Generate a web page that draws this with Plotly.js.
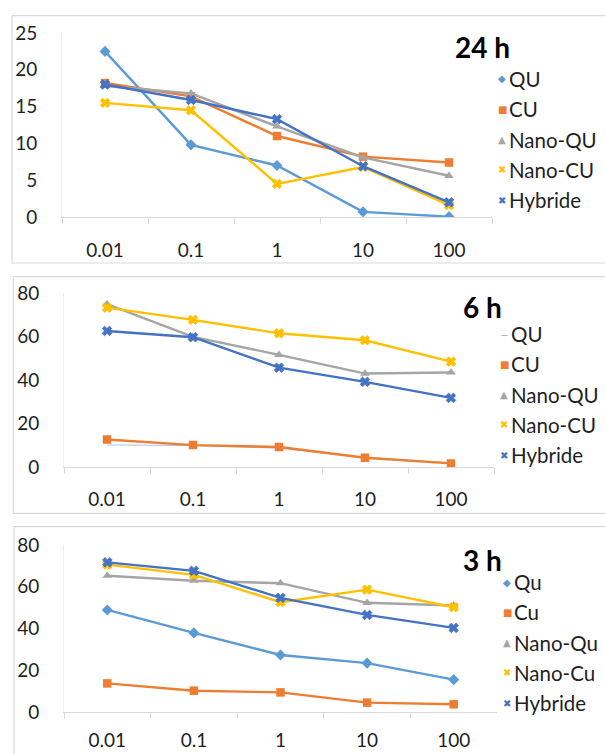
<!DOCTYPE html>
<html>
<head>
<meta charset="utf-8">
<script src="https://cdn.plot.ly/plotly-3.0.1.min.js"></script>
<style>
  html, body { margin: 0; padding: 0; background: #fff; }
  #chart { width: 605px; height: 754px; }
</style>
</head>
<body>
<div id="chart"></div>
<script>
// Concentrations on the category axis
const categories = ['0.01', '0.1', '1', '10', '100'];

// 24 h
const names24 = ['QU', 'CU', 'Nano-QU', 'Nano-CU', 'Hybride'];
const qu24     = [22.5, 9.8, 7.0, 0.7, 0.05];
const cu24     = [18.2, 16.4, 11.0, 8.2, 7.4];
const nanoQu24 = [17.8, 16.8, 12.3, 8.1, 5.6];
const nanoCu24 = [15.5, 14.5, 4.5, 6.8, 1.6];
const hyb24    = [18.0, 15.9, 13.3, 6.9, 2.0];

// 6 h
const names6 = ['QU', 'CU', 'Nano-QU', 'Nano-CU', 'Hybride'];
const qu6     = [10.3, 10.0, 8.8, 4.6, 2.0];
const cu6     = [12.8, 10.2, 9.3, 4.4, 1.8];
const nanoQu6 = [75.0, 60.0, 51.7, 43.1, 43.6];
const nanoCu6 = [73.4, 67.8, 61.6, 58.4, 48.6];
const hyb6    = [62.7, 59.8, 45.8, 39.3, 31.9];

// 3 h
const names3 = ['Qu', 'Cu', 'Nano-Qu', 'Nano-Cu', 'Hybride'];
const qu3     = [48.9, 37.9, 27.3, 23.4, 15.5];
const cu3     = [13.7, 10.2, 9.4, 4.5, 3.7];
const nanoQu3 = [65.3, 62.9, 61.7, 52.3, 51.0];
const nanoCu3 = [70.6, 65.7, 52.6, 58.6, 50.2];
const hyb3    = [71.7, 67.6, 54.7, 46.5, 40.3];

// Y-axis tick values per panel
const ticks24 = [0, 5, 10, 15, 20, 25];
const ticks6  = [0, 20, 40, 60, 80];
const ticks3  = [0, 20, 40, 60, 80];

// ---- styling ----
const W = 605, H = 754;
const px = v => v / W;          // pixel -> paper x
const py = v => 1 - v / H;      // pixel -> paper y
const FONT = 'Lato, "Open Sans", sans-serif';
const TEXT = '#1f1f1f';
const colors  = ['#5B9BD5', '#ED7D31', '#A5A5A5', '#FFC000', '#4472C4'];
const symbols = ['diamond', 'square', 'triangle-up', 'x', 'x'];
const msizes  = [8.5, 8.5, 8.5, 8.5, 8.5];
const glyphs  = ['\u25C6', '\u25A0', '\u25B2', '\u2716', '\u2716'];

const panels = [
  { title: '24 h', names: names24, series: [qu24, cu24, nanoQu24, nanoCu24, hyb24], ticks: ticks24,
    plot: [62, 492, 33, 217], box: [12, 640, 15.7, 263], titleY: 47, legendY: 79, legendX: 502,
    plainFirst: false, xStandoff: 16 },
  { title: '6 h', names: names6, series: [qu6, cu6, nanoQu6, nanoCu6, hyb6], ticks: ticks6,
    plot: [64, 494, 293.3, 467.3], box: [13.3, 640, 276.7, 513.3], titleY: 307, legendY: 334, legendX: 504,
    plainFirst: true, xStandoff: 15 },
  { title: '3 h', names: names3, series: [qu3, cu3, nanoQu3, nanoCu3, hyb3], ticks: ticks3,
    plot: [64, 497, 545, 712], box: [14, 640, 526.7, 790], titleY: 560, legendY: 582, legendX: 507,
    plainFirst: false, xStandoff: 11 }
];

const traces = [];
const shapes = [];
const annotations = [];
const layout = {
  width: W, height: H,
  margin: { l: 0, r: 0, t: 0, b: 0 },
  paper_bgcolor: '#fff', plot_bgcolor: 'rgba(0,0,0,0)',
  showlegend: false,
  font: { family: FONT, color: TEXT, size: 16 }
};

panels.forEach((p, i) => {
  const n = i === 0 ? '' : String(i + 1);
  const xa = 'x' + n, ya = 'y' + n;
  const [x0, x1, yTop, yBot] = p.plot;

  p.series.forEach((vals, k) => {
    const thin = p.plainFirst && k === 0;
    traces.push({
      type: 'scatter',
      mode: thin ? 'lines' : 'lines+markers',
      name: p.names[k],
      x: categories, y: vals,
      xaxis: xa, yaxis: ya,
      line: { color: thin ? '#A9C4E4' : colors[k], width: thin ? 1 : 2.4 },
      marker: { symbol: symbols[k], size: msizes[k], color: colors[k],
                line: { color: colors[k], width: symbols[k] === 'x' ? 0.8 : 0 } },
      hoverinfo: 'x+y+name'
    });
  });

  layout['xaxis' + n] = {
    domain: [px(x0), px(x1)], anchor: ya,
    type: 'category', range: [-0.5, 4.5], fixedrange: true,
    showgrid: false, zeroline: false,
    showline: true, linecolor: '#D9D9D9', linewidth: 1,
    ticks: 'outside', tickson: 'boundaries', ticklen: 6, tickcolor: '#D9D9D9',
    ticklabelstandoff: p.xStandoff,
    tickfont: { family: FONT, size: 19, color: TEXT }
  };
  layout['yaxis' + n] = {
    domain: [py(yBot), py(yTop)], anchor: xa,
    range: [0, p.ticks[p.ticks.length - 1]], tickvals: p.ticks, fixedrange: true,
    showgrid: false, zeroline: false,
    showline: true, linecolor: '#EDEDED', linewidth: 1,
    ticks: '', ticklabelstandoff: 20,
    tickfont: { family: FONT, size: 19, color: TEXT }
  };

  // panel frame
  const [bx0, bx1, by0, by1] = p.box;
  shapes.push({ type: 'rect', xref: 'paper', yref: 'paper',
    x0: px(bx0), x1: px(bx1), y0: py(by1), y1: py(by0),
    line: { color: '#D9D9D9', width: 1.2 }, fillcolor: 'rgba(0,0,0,0)', layer: 'below' });

  // panel title
  annotations.push({ xref: 'paper', yref: 'paper', x: px(482), y: py(p.titleY),
    xanchor: 'center', yanchor: 'middle', showarrow: false,
    text: '<b>' + p.title + '</b>', font: { family: FONT, size: 28, color: '#000' } });

  // legend entries
  p.names.forEach((name, k) => {
    const yy = py(p.legendY + k * 30.3);
    const thin = p.plainFirst && k === 0;
    annotations.push({ xref: 'paper', yref: 'paper', x: px(p.legendX), y: yy,
      xanchor: 'center', yanchor: 'middle', showarrow: false,
      text: thin ? '\u2012' : glyphs[k],
      font: { family: 'DejaVu Sans', size: thin ? 11 : 10, color: thin ? '#A0A0A0' : colors[k] } });
    annotations.push({ xref: 'paper', yref: 'paper', x: px(p.legendX + 5), y: yy,
      xanchor: 'left', yanchor: 'middle', showarrow: false,
      text: name, font: { family: FONT, size: 20.5, color: TEXT } });
  });
});

layout.shapes = shapes;
layout.annotations = annotations;

Plotly.newPlot('chart', traces, layout, { displayModeBar: false, staticPlot: true });
</script>
</body>
</html>
